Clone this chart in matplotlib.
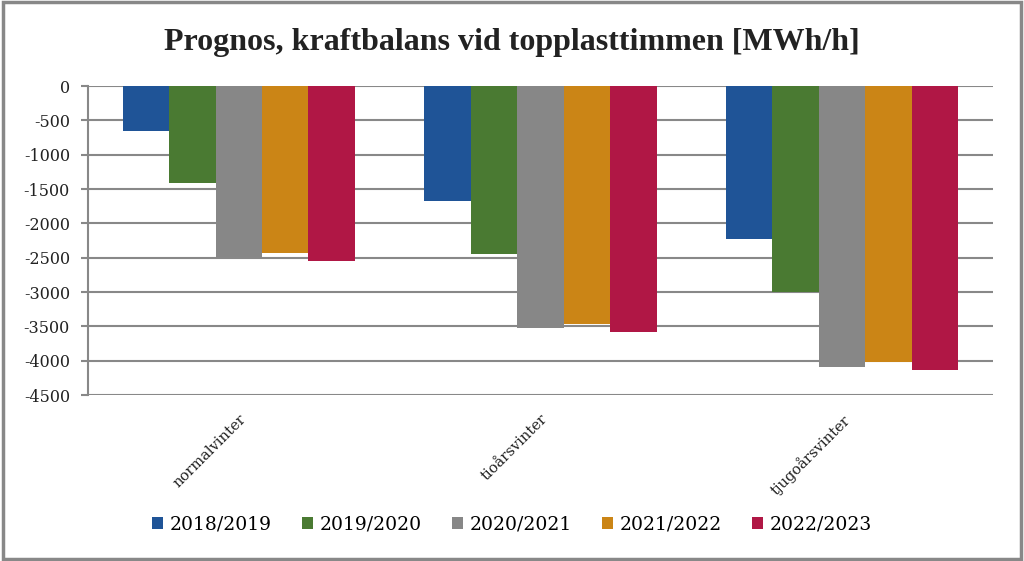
import numpy as np
import matplotlib.pyplot as plt
from matplotlib.patches import Rectangle, Patch

''' Data '''
categories = ['normalvinter', 'tioårsvinter', 'tjugoårsvinter']
seasons = ['2018/2019', '2019/2020', '2020/2021', '2021/2022', '2022/2023']
values = {
    '2018/2019': [-655, -1680, -2235],
    '2019/2020': [-1410, -2440, -3000],
    '2020/2021': [-2490, -3530, -4085],
    '2021/2022': [-2430, -3465, -4015],
    '2022/2023': [-2545, -3580, -4135],
}
colors = ['#1f5497', '#4a7a32', '#878787', '#cb8516', '#b01745']
yticks = np.arange(0, -5000, -500)

''' Graphing '''
fig = plt.figure(figsize=(10.24, 5.61), dpi=100)
ax = fig.add_axes([0.0859, 0.2959, 0.8838, 0.5508])

x = np.arange(len(categories))
bar_w = 0.154
for i, s in enumerate(seasons):
    offset = (i - 2) * bar_w
    ax.bar(x + offset, values[s], width=bar_w, color=colors[i], zorder=3)

ax.set_xlim(-0.5, 2.5)
ax.set_ylim(-4500, 0)
ax.set_yticks(yticks)
ax.set_yticklabels([str(v) for v in yticks], family='DejaVu Serif',
                   fontsize=11.5, color='#222222')
ax.tick_params(axis='y', length=5, color='#888888', width=1.5, pad=8)
ax.set_xticks(x)
ax.set_xticklabels(categories, rotation=45, ha='right', rotation_mode='anchor',
                   family='DejaVu Serif', fontsize=10.5, color='#222222')
ax.tick_params(axis='x', length=0, pad=12)

# grid and spines
ax.yaxis.grid(True, color='#888888', linewidth=1.5, zorder=0)
for side in ['top', 'right', 'bottom']:
    ax.spines[side].set_visible(False)
ax.spines['left'].set_color('#888888')
ax.spines['left'].set_linewidth(1.5)

# Title
fig.text(0.5, 0.925, 'Prognos, kraftbalans vid topplasttimmen [MWh/h]',
         ha='center', va='center', family='Liberation Serif',
         fontweight='bold', fontsize=23, color='#222222')

# Legend
handles = [Patch(facecolor=c, label=s) for c, s in zip(colors, seasons)]
fig.legend(handles=handles, loc='center', bbox_to_anchor=(0.5, 0.065),
           ncol=5, frameon=False, handlelength=0.6, handleheight=0.6,
           handletextpad=0.35, columnspacing=1.6,
           prop={'family': 'DejaVu Serif', 'size': 13.5})

# Outer border
fig.add_artist(Rectangle((0.003, 0.003), 0.994, 0.993, transform=fig.transFigure,
                         fill=False, edgecolor='#888888', linewidth=2.5))

plt.savefig('out.png', dpi=100)
